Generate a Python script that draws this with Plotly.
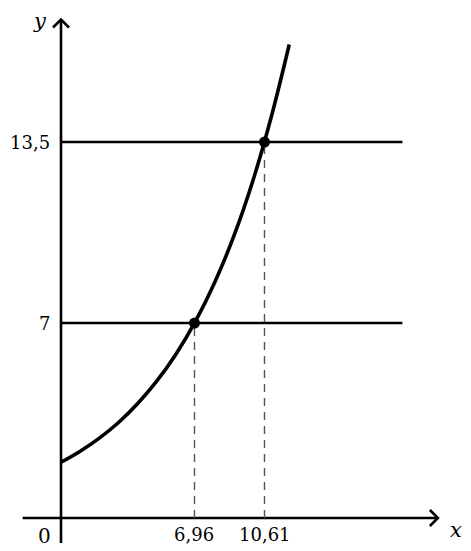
import plotly.graph_objects as go

# values
curve_x = [0, 1, 2, 3, 4, 5, 6, 7, 8, 9, 10, 11, 11.9]
curve_y = [2.0, 2.4, 2.87, 3.43, 4.11, 4.92, 5.89, 7.05, 8.44, 10.1, 12.1, 14.5, 17.0]
levels = [7, 13.5]
level_labels = ["7", "13,5"]
hits_x = [6.96, 10.61]
hit_labels = ["6,96", "10,61"]
line_end = 17.8

# the page body has an 8px margin, so the figure is a bit smaller than the window
W, H = 463, 543
x_range = [-2.763, 21.376]
y_range = [-1.185, 18.312]
sx = W / (x_range[1] - x_range[0])
sy = H / (y_range[1] - y_range[0])

serif = "DejaVu Serif"
font = dict(family=serif, size=18, color="black")
fig = go.Figure()

# axes
ax_style = dict(color="black", width=2.6)
fig.add_trace(go.Scatter(x=[-2, 19.6], y=[0, 0], mode="lines", line=ax_style, hoverinfo="skip"))
fig.add_trace(go.Scatter(x=[0, 0], y=[-0.9, 17.9], mode="lines", line=ax_style, hoverinfo="skip"))
# open arrow heads
a = 8
fig.add_trace(go.Scatter(x=[19.65 - a / sx, 19.65, 19.65 - a / sx], y=[a / sy, 0, -a / sy],
                         mode="lines", line=ax_style, hoverinfo="skip"))
fig.add_trace(go.Scatter(x=[-a / sx, 0, a / sx], y=[17.9 - a / sy, 17.9, 17.9 - a / sy],
                         mode="lines", line=ax_style, hoverinfo="skip"))

# horizontal levels
for lv in levels:
    fig.add_trace(go.Scatter(x=[0, line_end], y=[lv, lv], mode="lines",
                             line=dict(color="black", width=2.6), hoverinfo="skip"))

# dashed drops
for hx, lv in zip(hits_x, levels):
    fig.add_trace(go.Scatter(x=[hx, hx], y=[0, lv], mode="lines",
                             line=dict(color="#555555", width=1.4, dash="8px,6px"), hoverinfo="skip"))

# curve
fig.add_trace(go.Scatter(x=curve_x, y=curve_y, mode="lines", line_shape="spline",
                         line=dict(color="black", width=3.6), hoverinfo="skip"))

# intersection points
fig.add_trace(go.Scatter(x=hits_x, y=levels, mode="markers",
                         marker=dict(color="black", size=11), hoverinfo="skip"))

# labels
for lv, t in zip(levels, level_labels):
    fig.add_annotation(x=0, y=lv, text=t, showarrow=False, xanchor="right",
                       xshift=-9, font=font)
for hx, t in zip(hits_x, hit_labels):
    fig.add_annotation(x=hx, y=0, text=t, showarrow=False, yanchor="top",
                       yshift=-4, font=font)
fig.add_annotation(x=0, y=0, text="0", showarrow=False, xanchor="right", yanchor="top",
                   xshift=-8, yshift=-4, font=dict(family=serif, size=20, color="black"))
fig.add_annotation(x=19.65, y=0, text="<i>x</i>", showarrow=False, xanchor="left", yanchor="top",
                   xshift=10, yshift=2, font=dict(family=serif, size=21, color="black"))
fig.add_annotation(x=0, y=17.9, text="<i>y</i>", showarrow=False, xanchor="right", yanchor="bottom",
                   xshift=-12, yshift=-16, font=dict(family=serif, size=21, color="black"))

fig.update_layout(
    width=W, height=H, autosize=False,
    margin=dict(l=0, r=0, t=0, b=0),
    plot_bgcolor="white", paper_bgcolor="white",
    showlegend=False,
    xaxis=dict(range=x_range, visible=False, fixedrange=True),
    yaxis=dict(range=y_range, visible=False, fixedrange=True),
)

fig.write_html("out.html")
